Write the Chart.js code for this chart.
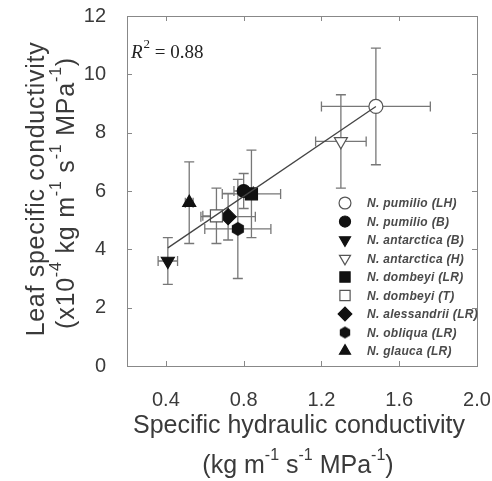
<!DOCTYPE html>
<html>
<head>
<meta charset="utf-8">
<script src="https://cdn.jsdelivr.net/npm/chart.js@4.4.1/dist/chart.umd.min.js"></script>
<style>
    html, body { margin: 0; padding: 0; background: #fff; }
    #wrap { width: 492px; height: 481px; }
</style>
</head>
<body>
<div id="wrap"><canvas id="grafica"></canvas></div>
<script>
// Datos
const especies = ['N. pumilio (LH)', 'N. pumilio (B)', 'N. antarctica (B)', 'N. antarctica (H)',
    'N. dombeyi (LR)', 'N. dombeyi (T)', 'N. alessandrii (LR)', 'N. obliqua (LR)', 'N. glauca (LR)'];
const condHidraulica = [1.48, 0.80, 0.41, 1.30, 0.84, 0.66, 0.72, 0.77, 0.52];
const condHoja = [8.9, 6.0, 3.6, 7.7, 5.9, 5.15, 5.12, 4.7, 5.6];
const errHidraulica = [0.28, 0.05, 0.05, 0.13, 0.15, 0.07, 0.14, 0.17, 0.02];
const errHoja = [2.0, 0.6, 0.8, 1.6, 1.5, 0.95, 0.8, 1.7, 1.4];
const ajusteX = [0.41, 1.48];
const ajusteY = [4.05, 8.9];
const ticksX = [0.4, 0.8, 1.2, 1.6, 2.0];
const ticksY = [0, 2, 4, 6, 8, 10, 12];

const FUENTE = '"Liberation Sans", Arial, sans-serif';
const GRIS = '#3a3a3a';

// hexagono para N. obliqua
function hexagono(r) {
    const c = document.createElement('canvas');
    c.width = c.height = r * 2 + 2;
    const g = c.getContext('2d');
    g.fillStyle = '#111';
    g.beginPath();
    for (let i = 0; i < 6; i++) {
        const a = Math.PI / 6 + i * Math.PI / 3;
        const px = r + 1 + r * Math.cos(a), py = r + 1 + r * Math.sin(a);
        i ? g.lineTo(px, py) : g.moveTo(px, py);
    }
    g.closePath();
    g.fill();
    return c;
}

// estilo de cada especie
const estilos = [
    { pointStyle: 'circle', radius: 7, rotation: 0, relleno: false },
    { pointStyle: 'circle', radius: 6.5, rotation: 0, relleno: true },
    { pointStyle: 'triangle', radius: 7.5, rotation: 180, relleno: true },
    { pointStyle: 'triangle', radius: 7.5, rotation: 180, relleno: false },
    { pointStyle: 'rect', radius: 8.5, rotation: 0, relleno: true },
    { pointStyle: 'rect', radius: 8.5, rotation: 0, relleno: false },
    { pointStyle: 'rectRot', radius: 8, rotation: 0, relleno: true },
    { pointStyle: hexagono(7), radius: 7, rotation: 0, relleno: true },
    { pointStyle: 'triangle', radius: 7.5, rotation: 0, relleno: true }
];
const hexLeyenda = hexagono(6);

const datasets = especies.map((nombre, i) => ({
    label: nombre,
    data: [{ x: condHidraulica[i], y: condHoja[i], ex: errHidraulica[i], ey: errHoja[i] }],
    pointStyle: estilos[i].pointStyle,
    pointRadius: estilos[i].radius,
    pointRotation: estilos[i].rotation,
    backgroundColor: estilos[i].relleno ? '#111' : '#fff',
    borderColor: estilos[i].relleno ? '#111' : '#555',
    borderWidth: 1.2
}));

datasets.unshift({
    label: 'ajuste',
    type: 'line',
    data: ajusteX.map((x, i) => ({ x: x, y: ajusteY[i] })),
    borderColor: '#444',
    borderWidth: 1.3,
    pointRadius: 0,
    fill: false
});

// texto con superindices
function textoRico(ctx, partes, cx, cy, size, angulo, espaciado) {
    ctx.save();
    ctx.translate(cx, cy);
    ctx.rotate(angulo);
    ctx.fillStyle = GRIS;
    ctx.textBaseline = 'middle';
    ctx.textAlign = 'left';
    ctx.letterSpacing = (espaciado || 0) + 'px';
    const fGrande = size + 'px ' + FUENTE;
    const fPeq = Math.round(size * 0.62) + 'px ' + FUENTE;
    let total = 0;
    const anchos = partes.map(p => {
        ctx.font = p[1] ? fPeq : fGrande;
        const w = ctx.measureText(p[0]).width;
        total += w;
        return w;
    });
    let x = -total / 2;
    partes.forEach((p, i) => {
        ctx.font = p[1] ? fPeq : fGrande;
        ctx.fillText(p[0], x, p[1] ? -size * 0.4 : 0);
        x += anchos[i];
    });
    ctx.restore();
}

const barrasError = {
    id: 'barrasError',
    beforeDatasetsDraw(chart) {
        const ctx = chart.ctx;
        const sx = chart.scales.x, sy = chart.scales.y;
        const tapa = 5;
        ctx.save();
        ctx.strokeStyle = '#777';
        ctx.lineWidth = 1.3;
        chart.data.datasets.forEach(ds => {
            if (ds.type === 'line') return;
            ds.data.forEach(p => {
                const x = sx.getPixelForValue(p.x), y = sy.getPixelForValue(p.y);
                const x0 = sx.getPixelForValue(p.x - p.ex), x1 = sx.getPixelForValue(p.x + p.ex);
                const y0 = sy.getPixelForValue(p.y - p.ey), y1 = sy.getPixelForValue(p.y + p.ey);
                ctx.beginPath();
                ctx.moveTo(x0, y); ctx.lineTo(x1, y);
                ctx.moveTo(x0, y - tapa); ctx.lineTo(x0, y + tapa);
                ctx.moveTo(x1, y - tapa); ctx.lineTo(x1, y + tapa);
                ctx.moveTo(x, y0); ctx.lineTo(x, y1);
                ctx.moveTo(x - tapa, y0); ctx.lineTo(x + tapa, y0);
                ctx.moveTo(x - tapa, y1); ctx.lineTo(x + tapa, y1);
                ctx.stroke();
            });
        });
        ctx.restore();
    }
};

const marcoYTextos = {
    id: 'marcoYTextos',
    afterDraw(chart) {
        const ctx = chart.ctx;
        const a = chart.chartArea;
        const sx = chart.scales.x, sy = chart.scales.y;
        ctx.save();
        ctx.strokeStyle = '#888';
        ctx.lineWidth = 1;
        ctx.strokeRect(a.left + 0.5, a.top + 0.5, a.right - a.left, a.bottom - a.top);
        ctx.beginPath();
        ticksX.forEach(v => {
            const x = Math.round(sx.getPixelForValue(v)) + 0.5;
            ctx.moveTo(x, a.bottom); ctx.lineTo(x, a.bottom - 5);
            ctx.moveTo(x, a.top); ctx.lineTo(x, a.top + 5);
        });
        ticksY.forEach(v => {
            const y = Math.round(sy.getPixelForValue(v)) + 0.5;
            ctx.moveTo(a.left, y); ctx.lineTo(a.left + 5, y);
            ctx.moveTo(a.right, y); ctx.lineTo(a.right - 5, y);
        });
        ctx.stroke();

        // R cuadrado
        ctx.fillStyle = '#222';
        ctx.textBaseline = 'alphabetic';
        ctx.font = 'italic 19px "Liberation Serif", "Times New Roman", serif';
        ctx.fillText('R', 131, 58);
        let w = ctx.measureText('R').width;
        ctx.font = '13px "Liberation Serif", "Times New Roman", serif';
        ctx.fillText('2', 131 + w + 1, 48);
        w += ctx.measureText('2').width + 1;
        ctx.font = '19px "Liberation Serif", "Times New Roman", serif';
        ctx.fillText(' = 0.88', 131 + w, 58);

        // leyenda
        const y0 = 203, paso = 18.5;
        especies.forEach((nombre, i) => {
            const y = y0 + i * paso;
            const e = estilos[i];
            ctx.fillStyle = e.relleno ? '#111' : '#fff';
            ctx.strokeStyle = e.relleno ? '#111' : '#555';
            ctx.lineWidth = 1.2;
            Chart.helpers.drawPoint(ctx, {
                pointStyle: typeof e.pointStyle === 'string' ? e.pointStyle : hexLeyenda,
                radius: e.radius * 0.85,
                rotation: e.rotation, borderWidth: 1.2
            }, 345, y);
            ctx.fillStyle = '#4a4a4a';
            ctx.font = 'bold italic 12px ' + FUENTE;
            ctx.textBaseline = 'middle';
            ctx.letterSpacing = '0.3px';
            ctx.fillText(nombre, 367, y + 1);
            ctx.letterSpacing = '0px';
        });

        // titulos de ejes
        textoRico(ctx, [['Leaf specific conductivity', false]], 37, 189, 25, -Math.PI / 2, 0.7);
        textoRico(ctx, [['(x10', false], ['-4', true], [' kg m', false], ['-1', true], [' s', false],
            ['-1', true], [' MPa', false], ['-1', true], [')', false]], 67, 193, 25, -Math.PI / 2, 0.8);
        textoRico(ctx, [['Specific hydraulic conductivity', false]], 299, 426, 25, 0, 0);
        textoRico(ctx, [['(kg m', false], ['-1', true], [' s', false], ['-1', true], [' MPa', false],
            ['-1', true], [')', false]], 298, 466, 25, 0, 0);
        ctx.restore();
    }
};

new Chart(document.getElementById('grafica'), {
    type: 'scatter',
    data: { datasets: datasets },
    options: {
        responsive: true,
        maintainAspectRatio: false,
        animation: false,
        layout: { autoPadding: false, padding: { top: 16, right: 15, left: 0, bottom: 0 } },
        plugins: { legend: { display: false }, tooltip: { enabled: false } },
        scales: {
            x: {
                type: 'linear', min: 0.2, max: 2.0,
                grid: { display: false },
                border: { display: false },
                afterBuildTicks: s => { s.ticks = ticksX.map(v => ({ value: v })); },
                afterFit: s => { s.height = 115; s.paddingLeft = 0; s.paddingRight = 0; },
                ticks: {
                    padding: 14, color: GRIS, maxRotation: 0,
                    font: { family: FUENTE, size: 20 },
                    callback: v => v.toFixed(1)
                }
            },
            y: {
                type: 'linear', min: 0, max: 12,
                grid: { display: false },
                border: { display: false },
                afterBuildTicks: s => { s.ticks = ticksY.map(v => ({ value: v })); },
                afterFit: s => { s.width = 127; s.paddingTop = 0; s.paddingBottom = 0; },
                ticks: {
                    padding: 13, color: GRIS,
                    font: { family: FUENTE, size: 20 }
                }
            }
        }
    },
    plugins: [barrasError, marcoYTextos]
});
</script>
</body>
</html>
